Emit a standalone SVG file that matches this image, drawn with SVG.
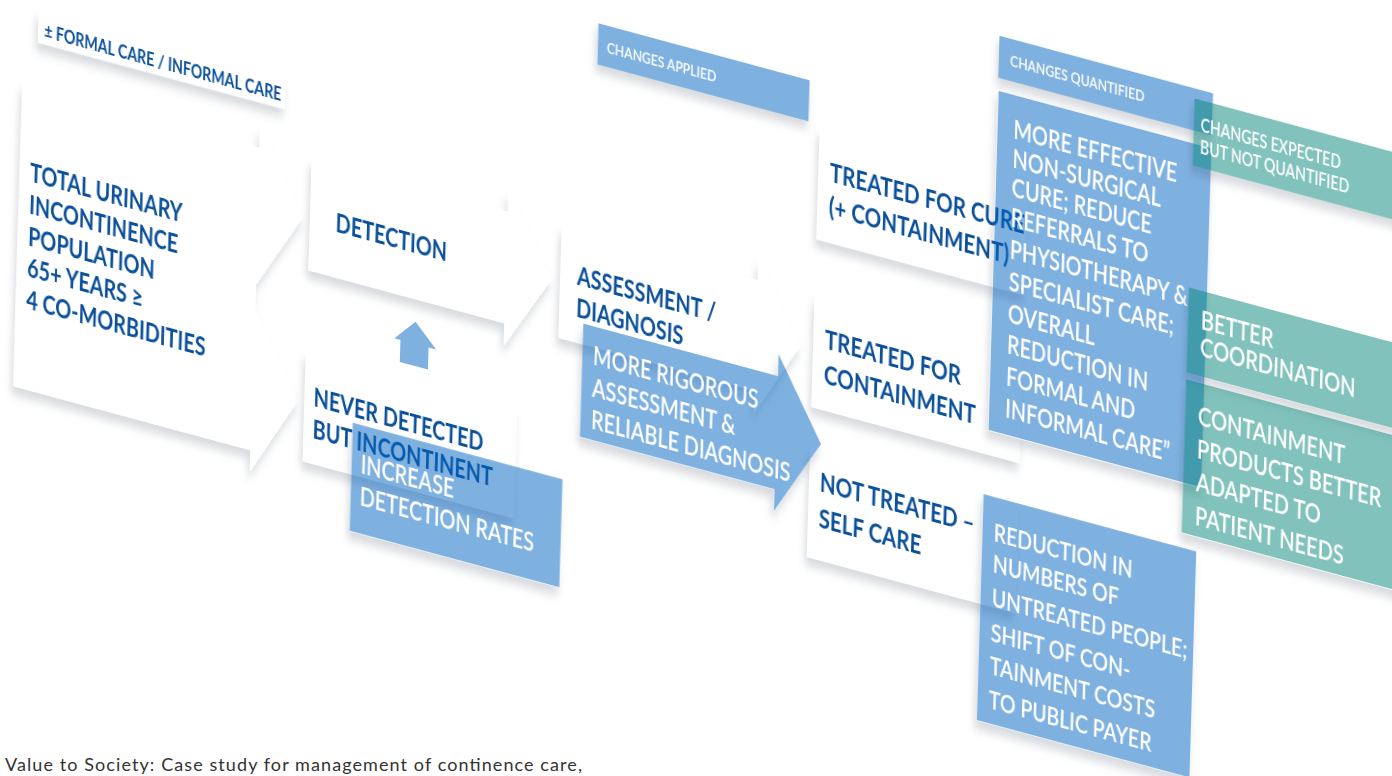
<svg xmlns="http://www.w3.org/2000/svg" width="1392" height="776" viewBox="0 0 1392 776">
<defs>
<style>
.w{fill:#ffffff}
.b{fill:rgb(0,100,193);fill-opacity:0.5}
.t{fill:rgb(5,133,121);fill-opacity:0.5}
text{font-family:Lato,"Liberation Sans",Arial,sans-serif}
.dk{fill:#0b509a;font-weight:700;font-size:26px}
.dk27{fill:#0b509a;font-weight:700;font-size:27px}
.wt{fill:#ffffff;font-weight:600;font-size:26px}
.wt27{fill:#ffffff;font-weight:600;font-size:26.3px}
.lbl{fill:#ffffff;font-weight:600;font-size:16px}
.sh{filter:url(#sh)}
</style>
<filter id="sh" x="-20%" y="-40%" width="140%" height="220%" color-interpolation-filters="sRGB">
<feComponentTransfer in="SourceAlpha" result="solid"><feFuncA type="linear" slope="30"/></feComponentTransfer>
<feGaussianBlur in="solid" stdDeviation="5" result="blur"/>
<feOffset in="blur" dx="-3" dy="8" result="off"/>
<feFlood flood-color="#1a2a40" flood-opacity="0.17" result="col"/>
<feComposite in="col" in2="off" operator="in" result="shadow"/>
<feComposite in="shadow" in2="solid" operator="out" result="outer"/>
<feMerge><feMergeNode in="outer"/><feMergeNode in="SourceGraphic"/></feMerge>
</filter>
</defs>
<rect width="1392" height="776" fill="#ffffff"/>
<g id="diagram" transform="matrix(0.76 0.205 -0.03 1 0 0)">
<g id="label-formal" class="sh">
<rect class="w" x="51" y="0" width="325" height="32"/>
<text x="59" y="24.5" style="fill:#0b509a;font-weight:700;font-size:18.5px" textLength="312" lengthAdjust="spacingAndGlyphs">± FORMAL CARE / INFORMAL CARE</text>
</g>
<g id="node-total" class="sh">
<polygon class="w" points="33,77 345,77 345,56 404,134 345,214 345,238 404,318 345,400 345,379 33,379"/>
<text class="dk"><tspan x="46" y="172">TOTAL URINARY</tspan><tspan x="46" y="203.7">INCONTINENCE</tspan><tspan x="46" y="235.4">POPULATION</tspan><tspan x="46" y="267.1">65+ YEARS ≥</tspan><tspan x="46" y="298.8">4 CO-MORBIDITIES</tspan></text>
</g>
<g id="node-detection" class="sh">
<polygon class="w" points="414,74 671,74 671,52 731,129 671,208 671,186 414,186"/>
<text class="dk" x="447" y="140">DETECTION</text>
</g>
<g id="node-never" class="sh">
<rect class="w" x="414" y="267" width="276" height="109"/>
<text class="dk"><tspan x="425" y="319.3">NEVER DETECTED</tspan><tspan x="425" y="350.7">BUT INCONTINENT</tspan></text>
</g>
<g id="node-assessment" class="sh">
<polygon class="w" points="742,75 1000,75 1000,53 1058,129 1000,208 1000,186 742,186"/>
<text class="dk"><tspan x="764" y="128.4">ASSESSMENT /</tspan><tspan x="764" y="159.8">DIAGNOSIS</tspan></text>
</g>
<g id="node-cure" class="sh">
<rect class="w" x="1075" y="-91" width="274" height="110"/>
<text class="dk27"><tspan x="1090" y="-42">TREATED FOR CURE</tspan><tspan x="1090" y="-8">(+ CONTAINMENT)</tspan></text>
</g>
<g id="node-containment" class="sh">
<rect class="w" x="1075" y="76" width="274" height="110"/>
<text class="dk27"><tspan x="1090" y="124.7">TREATED FOR</tspan><tspan x="1090" y="160">CONTAINMENT</tspan></text>
</g>
<g id="node-selfcare" class="sh">
<rect class="w" x="1075" y="227" width="274" height="109"/>
<text class="dk27"><tspan x="1089" y="268.2">NOT TREATED –</tspan><tspan x="1089" y="303.4">SELF CARE</tspan></text>
</g>
<g id="connectors">
<polygon class="b" points="555,208 583,230 573,230 573,252 536,252 536,230 528,230"/>
</g>
<g id="node-increase" class="sh">
<rect class="b" x="477" y="325" width="276" height="108"/>
<text class="wt"><tspan x="489" y="373">INCREASE</tspan><tspan x="489" y="405">DETECTION RATES</tspan></text>
</g>
<g id="node-rigorous" class="sh">
<polygon class="b" points="774,165 1030,165 1030,143 1089,221 1030,300 1030,278 774,278"/>
<text class="wt"><tspan x="788" y="203.3">MORE RIGOROUS</tspan><tspan x="788" y="235.3">ASSESSMENT &amp;</tspan><tspan x="788" y="267">RELIABLE DIAGNOSIS</tspan></text>
</g>
<g id="label-applied" class="sh">
<rect class="b" x="782" y="-137" width="278" height="41"/>
<text class="lbl" x="794" y="-110">CHANGES APPLIED</text>
</g>
<g id="label-quantified" class="sh">
<rect class="b" x="1306" y="-232" width="281" height="42"/>
<text class="lbl" x="1321" y="-204.6">CHANGES QUANTIFIED</text>
</g>
<g id="node-effective" class="sh">
<rect class="b" x="1307" y="-177" width="280" height="339"/>
<text class="wt"><tspan x="1328" y="-134">MORE EFFECTIVE</tspan><tspan x="1328" y="-105">NON-SURGICAL</tspan><tspan x="1328" y="-75.5">CURE; REDUCE</tspan><tspan x="1328" y="-45.5">REFERRALS TO</tspan><tspan x="1328" y="-14">PHYSIOTHERAPY &amp;</tspan><tspan x="1328" y="18">SPECIALIST CARE;</tspan><tspan x="1328" y="49.5">OVERALL</tspan><tspan x="1328" y="81">REDUCTION IN</tspan><tspan x="1328" y="113">FORMAL AND</tspan><tspan x="1328" y="144.5">INFORMAL CARE”</tspan></text>
</g>
<g id="node-untreated" class="sh">
<rect class="b" x="1303" y="227" width="280" height="226"/>
<text class="wt" style="font-size:25.6px"><tspan x="1318" y="270.6">REDUCTION IN</tspan><tspan x="1318" y="302.3">NUMBERS OF</tspan><tspan x="1318" y="335.8">UNTREATED PEOPLE;</tspan><tspan x="1318" y="370.9">SHIFT OF CON-</tspan><tspan x="1318" y="404.3">TAINMENT COSTS</tspan><tspan x="1318" y="437.8">TO PUBLIC PAYER</tspan></text>
</g>
<g id="label-expected" class="sh">
<rect class="t" x="1563" y="-222" width="300" height="67"/>
<text style="fill:#ffffff;font-weight:600;font-size:18.5px"><tspan x="1572" y="-191">CHANGES EXPECTED</tspan><tspan x="1572" y="-169">BUT NOT QUANTIFIED</tspan></text>
</g>
<g id="node-coordination" class="sh">
<rect class="t" x="1563" y="-33" width="300" height="85"/>
<text class="wt27"><tspan x="1580" y="5.4">BETTER</tspan><tspan x="1580" y="32">COORDINATION</tspan></text>
</g>
<g id="node-products" class="sh">
<rect class="t" x="1563" y="59" width="300" height="153"/>
<text class="wt27"><tspan x="1580" y="100.5">CONTAINMENT</tspan><tspan x="1580" y="133.8">PRODUCTS BETTER</tspan><tspan x="1580" y="167.3">ADAPTED TO</tspan><tspan x="1580" y="200.6">PATIENT NEEDS</tspan></text>
</g>
</g>
<text x="5" y="771" style="fill:#333333;font-size:18px;font-weight:400" textLength="577" lengthAdjust="spacing">Value to Society: Case study for management of continence care,</text>
</svg>
